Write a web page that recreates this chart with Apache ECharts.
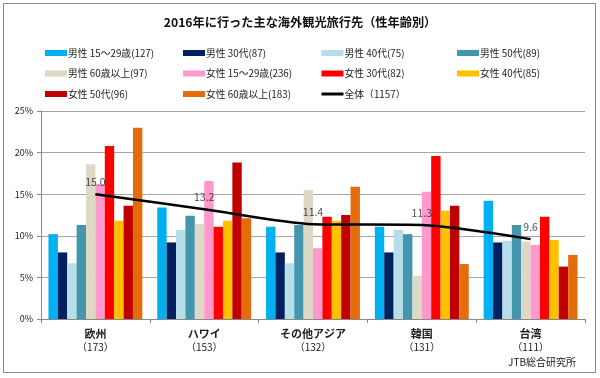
<!DOCTYPE html>
<html>
<head>
<meta charset="utf-8">
<script src="https://cdn.jsdelivr.net/npm/echarts@6/dist/echarts.min.js"></script>
<style>
html,body{margin:0;padding:0;background:#fff;}
#c{width:600px;height:378px;}
</style>
</head>
<body>
<div id="c"></div>
<script>
// ---- data ----
const categories = ['欧州', 'ハワイ', 'その他アジア', '韓国', '台湾'];
const sampleSizes = [173, 153, 132, 131, 111];
const seriesNames = [
  '男性 15～29歳(127)', '男性 30代(87)', '男性 40代(75)', '男性 50代(89)', '男性 60歳以上(97)',
  '女性 15～29歳(236)', '女性 30代(82)', '女性 40代(85)', '女性 50代(96)', '女性 60歳以上(183)'
];
const male15_29   = [10.2, 13.4, 11.1, 11.1, 14.2];
const male30s     = [8.0, 9.2, 8.0, 8.0, 9.2];
const male40s     = [6.7, 10.7, 6.7, 10.7, 9.4];
const male50s     = [11.3, 12.4, 11.3, 10.2, 11.3];
const male60plus  = [18.6, 11.4, 15.5, 5.2, 9.3];
const female15_29 = [16.2, 16.6, 8.5, 15.3, 8.9];
const female30s   = [20.8, 11.1, 12.3, 19.6, 12.3];
const female40s   = [11.8, 11.8, 11.8, 13.0, 9.5];
const female50s   = [13.6, 18.8, 12.5, 13.6, 6.3];
const female60plus= [23.0, 12.1, 15.9, 6.6, 7.7];
const totalName = '全体（1157）';
const total = [15.0, 13.2, 11.4, 11.3, 9.6];
const yTicks = [0, 5, 10, 15, 20, 25];
const source = 'JTB総合研究所';
const titleText = '2016年に行った主な海外観光旅行先（性年齢別）';

// ---- styles ----
const colors = ['#00B0F0', '#002060', '#B7DEE8', '#4396AE', '#DDD9C4',
                '#FF99CC', '#FF0000', '#FFC000', '#C00000', '#E46C0A'];
const barData = [male15_29, male30s, male40s, male50s, male60plus,
                 female15_29, female30s, female40s, female50s, female60plus];
const FONT = '"Noto Sans CJK JP", "Noto Sans", sans-serif';

const series = barData.map((d, i) => ({
  name: seriesNames[i],
  type: 'bar',
  data: d,
  itemStyle: { color: colors[i] },
  barGap: '0%',
  barCategoryGap: '13.7%',
  animation: false
}));
series.push({
  name: totalName,
  type: 'line',
  data: total,
  symbol: 'none',
  smooth: 0.25,
  lineStyle: { color: '#000', width: 2.5 },
  itemStyle: { color: '#000' },
  z: 10,
  animation: false
});
// value labels for the total line
series.push({
  name: 'totalLabels',
  type: 'scatter',
  data: total,
  symbolSize: 1,
  itemStyle: { color: 'rgba(0,0,0,0)' },
  z: 11,
  label: {
    show: true, position: 'top', distance: 6,
    formatter: p => p.value.toFixed(1),
    color: '#222', fontSize: 10.5, fontFamily: FONT
  },
  silent: true,
  animation: false
});

const legendCols = [
  [seriesNames[0], seriesNames[4], seriesNames[8]],
  [seriesNames[1], seriesNames[5], seriesNames[9]],
  [seriesNames[2], seriesNames[6], totalName],
  [seriesNames[3], seriesNames[7]]
];
const legendLeft = [45, 183, 320, 457];
const legends = legendCols.map((cols, i) => ({
  orient: 'vertical',
  left: legendLeft[i],
  top: 47,
  padding: 0,
  itemGap: 8.5,
  itemWidth: 22,
  itemHeight: 6,
  data: cols.map(n => n === totalName
    ? { name: n, itemStyle: { opacity: 0 }, lineStyle: { color: '#000', width: 3 } }
    : { name: n, icon: 'rect' }),
  textStyle: { fontSize: 9.8, color: '#222', fontFamily: FONT, lineHeight: 12, padding: [0, 0, 0, -4] },
  selectedMode: false
}));

const chart = echarts.init(document.getElementById('c'), null, { renderer: 'canvas' });
chart.setOption({
  backgroundColor: '#fff',
  animation: false,
  title: {
    text: titleText,
    left: 'center',
    top: 11,
    textStyle: { fontSize: 12.2, fontWeight: 'bold', color: '#111', fontFamily: FONT }
  },
  legend: legends,
  grid: { left: 41, right: 15, top: 111, bottom: 59, containLabel: false },
  xAxis: {
    type: 'category',
    data: categories,
    axisLine: { lineStyle: { color: '#888' } },
    axisTick: { show: true, length: 4, lineStyle: { color: '#888' } },
    axisLabel: {
      interval: 0,
      margin: 8,
      formatter: (v, i) => '{a|' + v + '}\n{b|（' + sampleSizes[i] + '）}',
      rich: {
        a: { fontSize: 11, fontWeight: 'bold', color: '#222', fontFamily: FONT, lineHeight: 13.5 },
        b: { fontSize: 10, color: '#222', fontFamily: FONT, lineHeight: 13.5 }
      }
    }
  },
  yAxis: {
    type: 'value',
    min: yTicks[0],
    max: yTicks[yTicks.length - 1],
    interval: yTicks[1] - yTicks[0],
    axisLine: { show: true, lineStyle: { color: '#888' } },
    axisTick: { show: true, length: 4, lineStyle: { color: '#888' } },
    splitLine: { lineStyle: { color: '#A6A6A6' } },
    axisLabel: { formatter: '{value}%', fontSize: 9, color: '#222', fontFamily: FONT, margin: 8 }
  },
  graphic: [
    { type: 'rect', shape: { x: 3.5, y: 3.5, width: 592, height: 369 },
      style: { fill: 'none', stroke: '#888', lineWidth: 1 }, silent: true, z: 100 },
    { type: 'text', right: 24, top: 357,
      style: { text: source, fontSize: 10, fill: '#222', fontFamily: FONT } }
  ],
  series: series
});
</script>
</body>
</html>
